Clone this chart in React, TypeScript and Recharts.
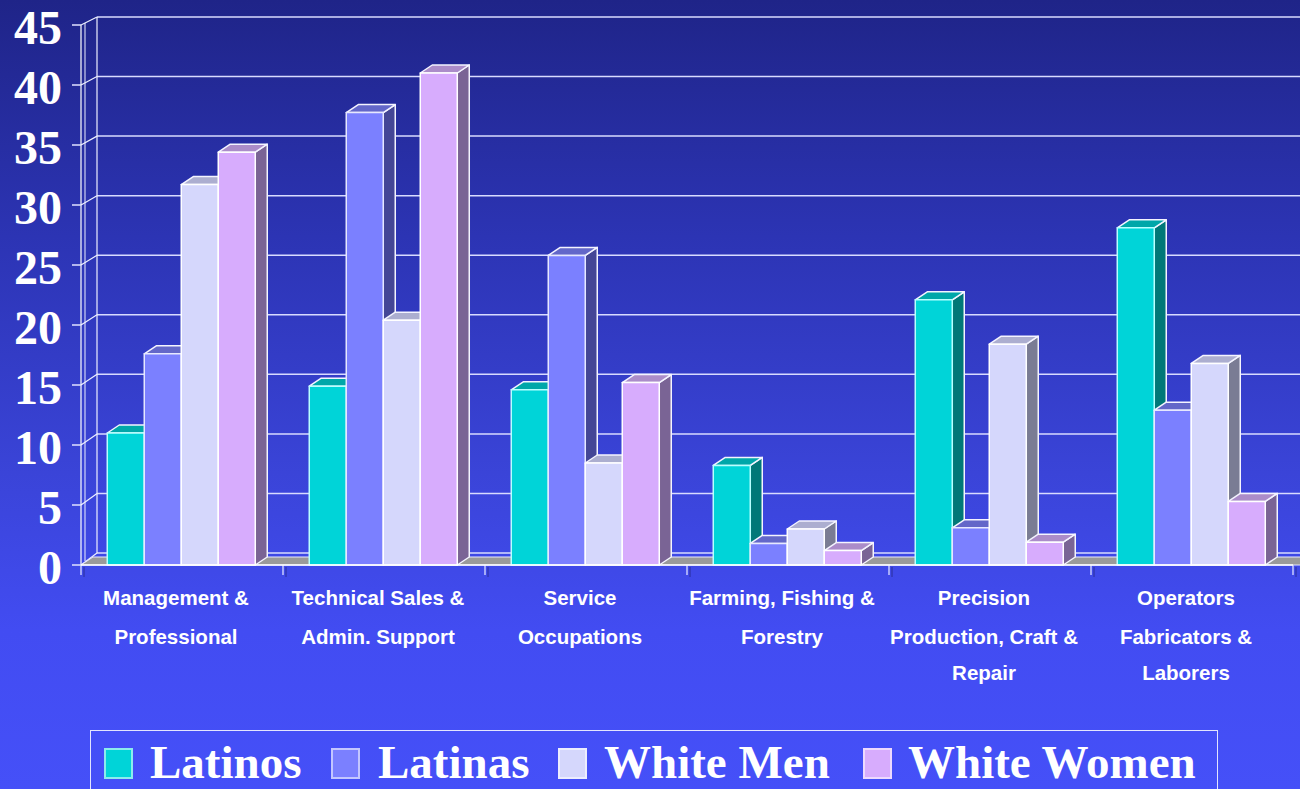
import React from 'react'
import { BarChart, Bar, XAxis, YAxis, CartesianGrid } from 'recharts'

// chart values
const categories = [
  'Management &\nProfessional',
  'Technical Sales &\nAdmin. Support',
  'Service\nOccupations',
  'Farming, Fishing &\nForestry',
  'Precision\nProduction, Craft &\nRepair',
  'Operators\nFabricators &\nLaborers',
]
const latinos = [11.0, 14.9, 14.6, 8.3, 22.1, 28.1]
const latinas = [17.6, 37.7, 25.8, 1.8, 3.1, 12.9]
const whiteMen = [31.7, 20.4, 8.5, 3.0, 18.4, 16.8]
const whiteWomen = [34.4, 41.0, 15.2, 1.2, 1.9, 5.3]
const yTicks = [0, 5, 10, 15, 20, 25, 30, 35, 40, 45]

const series = [
  { key: 'latinos', name: 'Latinos', front: '#00d4d8', top: '#00a7a9', side: '#007878', edge: '#b8ffff' },
  { key: 'latinas', name: 'Latinas', front: '#7b80ff', top: '#6367c9', side: '#444696', edge: '#e6e8ff' },
  { key: 'whiteMen', name: 'White Men', front: '#d5d7fc', top: '#acaed0', side: '#7a7c94', edge: '#ffffff' },
  { key: 'whiteWomen', name: 'White Women', front: '#d7acfd', top: '#ab8cc9', side: '#7a6495', edge: '#ffffff' },
]

const data = categories.map((name, i) => ({
  name,
  latinos: latinos[i],
  latinas: latinas[i],
  whiteMen: whiteMen[i],
  whiteWomen: whiteWomen[i],
}))

// plot geometry (front plane)
const W = 1300
const H = 789
const PLOT_L = 81
const PLOT_T = 25
const PLOT_B = 565
const X_AXIS_H = 130
const DX = 12
const DY = 8

const makeBox = (s: typeof series[number]) => (props: any) => {
  const { x, y, width, height } = props
  if (!height || height <= 0) return <g />
  const r = x + width
  const b = y + height
  return (
    <g strokeLinejoin="round">
      <polygon
        points={`${r},${y} ${r + DX},${y - DY} ${r + DX},${b - DY} ${r},${b}`}
        fill={s.side}
        stroke="#f4f4ff"
        strokeWidth={1.5}
      />
      <polygon
        points={`${x},${y} ${x + DX},${y - DY} ${r + DX},${y - DY} ${r},${y}`}
        fill={s.top}
        stroke="#f4f4ff"
        strokeWidth={1.5}
      />
      <rect x={x} y={y} width={width} height={height} fill={s.front} stroke={s.edge} strokeWidth={1.5} />
    </g>
  )
}

const gridLine = (props: any) => {
  const { y1, x2, index } = props
  const y = y1
  const wy = 8 + (4 * (y - PLOT_T)) / (PLOT_B - PLOT_T)
  const isFloor = Math.abs(y - PLOT_B) < 1
  const isTop = Math.abs(y - PLOT_T) < 1
  const step = (x2 - PLOT_L) / categories.length
  return (
    <g key={`grid-${index}`}>
      <line x1={PLOT_L + 16} y1={y - wy} x2={W} y2={y - wy} stroke="#d8dbff" strokeWidth={1.5} />
      <line x1={PLOT_L} y1={y} x2={PLOT_L + 16} y2={y - wy} stroke="#eef0ff" strokeWidth={1.2} />
      {isTop && (
        <g>
          <line x1={PLOT_L + 16} y1={y - wy} x2={PLOT_L + 16} y2={PLOT_B - 12} stroke="#eef0ff" strokeWidth={1.2} />
          <line x1={PLOT_L + 4} y1={y - 2} x2={PLOT_L + 4} y2={PLOT_B - 4} stroke="#eef0ff" strokeWidth={1} />
        </g>
      )}
      {isFloor && (
        <g>
          <polygon
            points={`${PLOT_L},${PLOT_B} ${W + 20},${PLOT_B} ${W + 20},${PLOT_B - 8} ${PLOT_L + 12},${PLOT_B - 8}`}
            fill="#9a9a9a"
            stroke="#e8e8ff"
            strokeWidth={1}
          />
          {categories.concat(['']).map((_, i) => (
            <g key={`bt-${i}`}>
              <line x1={PLOT_L + i * step} y1={PLOT_B} x2={PLOT_L + i * step} y2={PLOT_B + 10} stroke="#c9ccff" strokeWidth={1.5} />
              <line x1={PLOT_L + i * step + 3} y1={PLOT_B + 2} x2={PLOT_L + i * step + 3} y2={PLOT_B + 12} stroke="#2a2f9a" strokeWidth={1} />
            </g>
          ))}
        </g>
      )}
    </g>
  )
}

const XTick = (props: any) => {
  const { x, payload } = props
  const lines = String(payload.value).split('\n')
  const baselines = [PLOT_B + 40, PLOT_B + 79, PLOT_B + 115]
  return (
    <g>
      {lines.map((t, i) => (
        <text
          key={i}
          x={x - 6}
          y={baselines[i]}
          textAnchor="middle"
          fill="#ffffff"
          fontFamily="'Liberation Sans', Arial, sans-serif"
          fontWeight="bold"
          fontSize={20.5}
        >
          {t}
        </text>
      ))}
    </g>
  )
}

const YTick = (props: any) => {
  const { x, y, payload } = props
  return (
    <text
      x={x}
      y={y + 19}
      textAnchor="end"
      fill="#ffffff"
      fontFamily="'Liberation Serif', 'Times New Roman', serif"
      fontWeight="bold"
      fontSize={48}
    >
      {payload.value}
    </text>
  )
}

const legendPos = [
  { box: 104, text: 150 },
  { box: 331, text: 378 },
  { box: 558, text: 604 },
  { box: 863, text: 908 },
]

const App: React.FC = () => {
  return (
    <div
      style={{
        position: 'absolute',
        left: 0,
        top: 0,
        width: W,
        height: H,
        overflow: 'hidden',
        background: 'linear-gradient(180deg, #1f2488 0%, #2c34b4 30%, #3a44d8 60%, #424cf2 80%, #4550f8 100%)',
      }}
    >
      <BarChart
        width={W}
        height={H}
        data={data}
        margin={{ top: PLOT_T, right: 7, bottom: H - PLOT_B - X_AXIS_H, left: 0 }}
        barCategoryGap="13%"
        barGap={0}
      >
        <CartesianGrid vertical={false} horizontal={gridLine} />
        <XAxis
          dataKey="name"
          height={X_AXIS_H}
          interval={0}
          tickLine={false}
          axisLine={{ stroke: '#ffffff', strokeWidth: 1.5 }}
          tick={<XTick />}
        />
        <YAxis
          width={PLOT_L}
          domain={[0, 45]}
          ticks={yTicks}
          interval={0}
          tickSize={9}
          tickMargin={10}
          tickLine={{ stroke: '#e0e2ff', strokeWidth: 1.5 }}
          axisLine={{ stroke: '#ffffff', strokeWidth: 1.2 }}
          tick={<YTick />}
        />
        {series.map((s) => (
          <Bar
            key={s.key}
            dataKey={s.key}
            name={s.name}
            fill={s.front}
            shape={makeBox(s)}
            isAnimationActive={false}
          />
        ))}
      </BarChart>
      <div
        style={{
          position: 'absolute',
          left: 90,
          top: 730,
          width: 1128,
          height: 80,
          border: '1.5px solid #e2e4ff',
          boxSizing: 'border-box',
        }}
      />
      {series.map((s, i) => (
        <React.Fragment key={s.key}>
          <div
            style={{
              position: 'absolute',
              left: legendPos[i].box,
              top: 748,
              width: 29,
              height: 31,
              background: s.front,
              border: '2px solid rgba(255,255,255,0.55)',
              boxSizing: 'border-box',
            }}
          />
          <div
            style={{
              position: 'absolute',
              left: legendPos[i].text,
              top: 734,
              color: '#ffffff',
              fontFamily: "'Liberation Serif', 'Times New Roman', serif",
              fontWeight: 'bold',
              fontSize: 47,
              lineHeight: '56px',
              whiteSpace: 'nowrap',
            }}
          >
            {s.name}
          </div>
        </React.Fragment>
      ))}
    </div>
  )
}

export default App
